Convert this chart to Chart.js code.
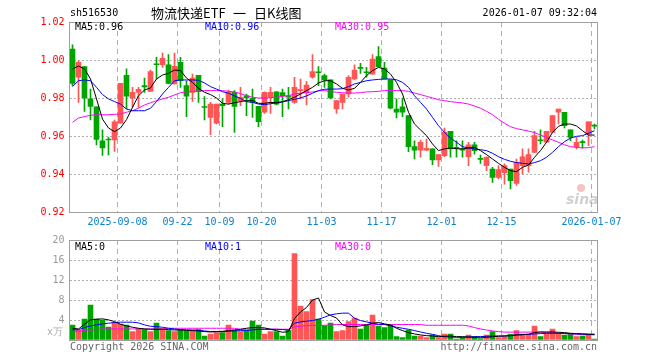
<!DOCTYPE html>
<html>
<head>
<meta charset="utf-8">
<script src="https://cdn.jsdelivr.net/npm/chart.js@4/dist/chart.umd.min.js"></script>
<style>
html, body { margin: 0; padding: 0; background: #fff; }
#wrap { position: relative; width: 660px; height: 360px; }
canvas { position: absolute; left: 0; top: 0; }
</style>
</head>
<body>
<div id="wrap">
  <canvas id="kChart" width="660" height="360"></canvas>
  <canvas id="volChart" width="660" height="360"></canvas>
</div>
<script>
// trading days shown
var dates = [
  "2025-08-27","2025-08-28","2025-08-29",
  "2025-09-01","2025-09-02","2025-09-03","2025-09-04","2025-09-05",
  "2025-09-08","2025-09-09","2025-09-10","2025-09-11","2025-09-12",
  "2025-09-15","2025-09-16","2025-09-17","2025-09-18","2025-09-19",
  "2025-09-22","2025-09-23","2025-09-24","2025-09-25","2025-09-26",
  "2025-09-29","2025-09-30","2025-10-09","2025-10-10",
  "2025-10-13","2025-10-14","2025-10-15","2025-10-16","2025-10-17",
  "2025-10-20","2025-10-21","2025-10-22","2025-10-23","2025-10-24",
  "2025-10-27","2025-10-28","2025-10-29","2025-10-30","2025-10-31",
  "2025-11-03","2025-11-04","2025-11-05","2025-11-06","2025-11-07",
  "2025-11-10","2025-11-11","2025-11-12","2025-11-13","2025-11-14",
  "2025-11-17","2025-11-18","2025-11-19","2025-11-20","2025-11-21",
  "2025-11-24","2025-11-25","2025-11-26","2025-11-27","2025-11-28",
  "2025-12-01","2025-12-02","2025-12-03","2025-12-04","2025-12-05",
  "2025-12-08","2025-12-09","2025-12-10","2025-12-11","2025-12-12",
  "2025-12-15","2025-12-16","2025-12-17","2025-12-18","2025-12-19",
  "2025-12-22","2025-12-23","2025-12-24","2025-12-25","2025-12-26",
  "2025-12-29","2025-12-30","2025-12-31",
  "2026-01-05","2026-01-06","2026-01-07"
];

var opens = [
  1.0058,0.9909,0.9965,0.9795,0.9754,0.9575,0.9582,0.9579,0.9667,0.9919,
  0.9800,0.9830,0.9865,0.9835,0.9979,0.9975,0.9975,0.9874,0.9988,0.9865,
  0.9830,0.9919,0.9751,0.9698,0.9667,0.9768,0.9777,0.9830,0.9786,0.9811,
  0.9798,0.9756,0.9725,0.9804,0.9833,0.9828,0.9812,0.9777,0.9839,0.9830,
  0.9909,0.9935,0.9918,0.9895,0.9742,0.9777,0.9821,0.9900,0.9958,0.9935,
  0.9926,1.0018,0.9958,0.9895,0.9742,0.9754,0.9707,0.9544,0.9526,0.9526,
  0.9532,0.9474,0.9496,0.9625,0.9537,0.9528,0.9491,0.9554,0.9479,0.9444,
  0.9426,0.9382,0.9407,0.9426,0.9351,0.9444,0.9444,0.9514,0.9577,0.9567,
  0.9619,0.9725,0.9725,0.9632,0.9544,0.9567,0.9611,0.9654
];
var highs = [
  1.0080,0.9996,0.9965,0.9847,0.9754,0.9632,0.9593,0.9684,0.9877,0.9953,
  0.9856,0.9856,0.9905,0.9947,1.0014,1.0037,1.0028,1.0037,1.0014,0.9891,
  0.9926,0.9919,0.9807,0.9777,0.9768,0.9795,0.9842,0.9839,0.9856,0.9821,
  0.9847,0.9756,0.9833,0.9856,0.9833,0.9847,0.9856,0.9909,0.9900,0.9888,
  1.0028,0.9965,0.9926,0.9895,0.9786,0.9821,0.9918,0.9975,0.9982,0.9961,
  1.0028,1.0070,0.9988,0.9895,0.9795,0.9800,0.9707,0.9575,0.9579,0.9584,
  0.9532,0.9502,0.9642,0.9625,0.9575,0.9575,0.9567,0.9567,0.9500,0.9491,
  0.9435,0.9444,0.9453,0.9426,0.9479,0.9532,0.9532,0.9625,0.9632,0.9625,
  0.9707,0.9742,0.9725,0.9632,0.9593,0.9579,0.9675,0.9663
];
var lows = [
  0.9865,0.9777,0.9730,0.9684,0.9553,0.9498,0.9500,0.9519,0.9667,0.9742,
  0.9751,0.9751,0.9830,0.9835,0.9900,0.9961,0.9874,0.9874,0.9856,0.9702,
  0.9782,0.9777,0.9684,0.9607,0.9663,0.9649,0.9768,0.9619,0.9760,0.9707,
  0.9698,0.9649,0.9719,0.9719,0.9763,0.9702,0.9742,0.9772,0.9795,0.9763,
  0.9905,0.9865,0.9856,0.9795,0.9719,0.9742,0.9804,0.9895,0.9930,0.9909,
  0.9926,0.9965,0.9900,0.9742,0.9695,0.9702,0.9518,0.9479,0.9488,0.9523,
  0.9449,0.9440,0.9491,0.9488,0.9488,0.9488,0.9444,0.9505,0.9456,0.9418,
  0.9356,0.9374,0.9347,0.9321,0.9340,0.9400,0.9409,0.9514,0.9558,0.9567,
  0.9619,0.9663,0.9642,0.9575,0.9532,0.9537,0.9549,0.9637
];
var closes = [
  0.9877,0.9988,0.9800,0.9756,0.9582,0.9537,0.9579,0.9675,0.9877,0.9809,
  0.9830,0.9846,0.9858,0.9939,0.9975,1.0009,0.9877,0.9967,0.9891,0.9809,
  0.9905,0.9833,0.9750,0.9768,0.9768,0.9760,0.9830,0.9756,0.9804,0.9800,
  0.9777,0.9675,0.9830,0.9830,0.9768,0.9812,0.9804,0.9856,0.9842,0.9868,
  0.9939,0.9933,0.9895,0.9800,0.9786,0.9821,0.9909,0.9947,0.9956,0.9933,
  1.0005,0.9965,0.9900,0.9747,0.9725,0.9725,0.9544,0.9526,0.9567,0.9535,
  0.9474,0.9502,0.9619,0.9532,0.9535,0.9526,0.9554,0.9523,0.9477,0.9488,
  0.9382,0.9423,0.9444,0.9365,0.9461,0.9491,0.9502,0.9602,0.9575,0.9625,
  0.9707,0.9742,0.9654,0.9593,0.9567,0.9565,0.9675,0.9652
];

// moving averages as drawn on the price panel
var ma5 = [
  0.9953,0.9968,0.9953,0.9900,0.9795,0.9689,0.9642,0.9623,0.9642,0.9686,
  0.9751,0.9812,0.9842,0.9853,0.9900,0.9921,0.9930,0.9947,0.9944,0.9905,
  0.9882,0.9851,0.9830,0.9818,0.9800,0.9772,0.9768,0.9775,0.9781,0.9786,
  0.9786,0.9772,0.9772,0.9777,0.9775,0.9781,0.9791,0.9804,0.9821,0.9839,
  0.9856,0.9879,0.9891,0.9891,0.9874,0.9851,0.9842,0.9851,0.9882,0.9918,
  0.9944,0.9961,0.9953,0.9926,0.9882,0.9821,0.9725,0.9663,0.9632,0.9602,
  0.9558,0.9523,0.9532,0.9537,0.9533,0.9532,0.9537,0.9540,0.9523,0.9502,
  0.9479,0.9456,0.9435,0.9418,0.9412,0.9435,0.9447,0.9488,0.9523,0.9567,
  0.9619,0.9651,0.9663,0.9663,0.9653,0.9628,0.9605,0.9605
];
var ma10 = [
  0.9860,0.9891,0.9895,0.9891,0.9856,0.9818,0.9795,0.9781,0.9768,0.9742,
  0.9733,0.9733,0.9733,0.9746,0.9781,0.9821,0.9856,0.9891,0.9895,0.9895,
  0.9895,0.9893,0.9879,0.9860,0.9847,0.9833,0.9825,0.9811,0.9798,0.9781,
  0.9777,0.9768,0.9765,0.9770,0.9774,0.9779,0.9786,0.9793,0.9800,0.9811,
  0.9825,0.9839,0.9846,0.9847,0.9847,0.9849,0.9860,0.9874,0.9882,0.9891,
  0.9895,0.9898,0.9900,0.9900,0.9896,0.9882,0.9856,0.9812,0.9777,0.9742,
  0.9698,0.9654,0.9619,0.9589,0.9567,0.9544,0.9537,0.9532,0.9528,0.9523,
  0.9509,0.9491,0.9477,0.9467,0.9460,0.9456,0.9453,0.9460,0.9470,0.9488,
  0.9514,0.9544,0.9570,0.9589,0.9598,0.9602,0.9614,0.9628
];
var ma30 = [
  0.9672,0.9695,0.9702,0.9709,0.9712,0.9712,0.9712,0.9714,0.9716,0.9725,
  0.9733,0.9747,0.9763,0.9775,0.9786,0.9795,0.9804,0.9816,0.9828,0.9833,
  0.9835,0.9837,0.9839,0.9839,0.9839,0.9839,0.9835,0.9832,0.9823,0.9812,
  0.9804,0.9800,0.9800,0.9802,0.9804,0.9809,0.9812,0.9821,0.9825,0.9828,
  0.9832,0.9837,0.9839,0.9835,0.9830,0.9828,0.9826,0.9826,0.9828,0.9832,
  0.9833,0.9835,0.9839,0.9839,0.9839,0.9839,0.9835,0.9826,0.9818,0.9809,
  0.9800,0.9791,0.9786,0.9781,0.9777,0.9774,0.9768,0.9758,0.9746,0.9730,
  0.9712,0.9688,0.9667,0.9649,0.9639,0.9632,0.9626,0.9618,0.9605,0.9593,
  0.9579,0.9567,0.9554,0.9544,0.9540,0.9537,0.9539,0.9544
];

// volume, in 万
var volumes = [
  3.0,2.0,4.2,7.0,4.2,4.0,2.6,3.5,3.2,3.0,
  1.7,2.3,2.1,1.7,3.4,2.3,1.9,1.7,2.1,1.9,
  1.9,2.1,0.8,1.2,1.5,1.5,3.0,2.0,1.7,1.9,
  3.8,3.0,1.2,1.7,1.7,0.8,2.0,17.3,6.8,5.7,
  8.1,4.2,2.9,3.4,1.7,1.9,3.7,4.4,2.2,3.0,
  5.0,2.8,2.5,3.0,0.7,0.5,2.0,0.8,0.8,0.5,
  1.0,0.5,1.2,1.2,0.2,0.5,1.0,0.7,0.3,1.0,
  1.7,0.5,0.7,1.2,1.9,1.2,1.2,2.8,0.7,1.3,
  2.2,1.3,1.0,1.3,0.7,0.8,1.2,0.2
];
var volMa5 = [
  2.35,2.21,3.15,4.03,4.16,4.23,4.03,3.69,3.15,2.82,
  2.55,2.35,2.21,2.15,2.15,2.15,2.08,2.01,2.01,1.95,
  1.88,1.81,1.68,1.61,1.68,1.74,1.88,2.01,2.15,2.35,
  2.48,2.48,2.42,2.15,1.88,1.54,1.68,4.3,5.6,6.5,
  8.0,8.4,5.6,4.9,4.4,3.02,2.68,2.68,2.82,3.02,
  3.36,3.49,3.22,3.02,2.35,1.88,1.48,1.21,1.01,0.87,
  0.81,0.67,0.74,0.81,0.67,0.67,0.60,0.54,0.54,0.54,
  0.67,0.74,0.81,0.87,1.01,1.07,1.14,1.48,1.61,1.61,
  1.61,1.54,1.48,1.34,1.28,1.21,1.14,1.14
];
var volMa10 = [
  2.01,2.08,2.48,2.82,3.02,3.22,3.36,3.49,3.56,3.56,
  3.56,3.42,3.02,2.75,2.68,2.55,2.35,2.21,2.08,2.01,
  2.01,1.95,1.81,1.68,1.68,1.68,1.74,1.81,1.88,1.88,
  2.01,2.15,2.15,2.15,2.15,2.08,2.01,3.36,3.62,3.76,
  3.89,4.16,4.56,5.03,5.23,5.37,5.37,4.36,3.89,3.62,
  3.36,3.15,3.09,2.82,2.55,2.35,2.15,1.88,1.61,1.34,
  1.14,0.87,0.67,0.60,0.54,0.54,0.60,0.67,0.67,0.74,
  0.81,0.81,0.81,0.87,1.01,1.07,1.14,1.21,1.28,1.34,
  1.34,1.34,1.34,1.28,1.21,1.21,1.14,1.14
];
var volMa30 = [
  1.74,1.74,1.95,2.01,2.08,2.21,2.21,2.21,2.21,2.21,
  2.21,2.21,2.21,2.21,2.21,2.21,2.35,2.35,2.35,2.35,
  2.35,2.35,2.35,2.35,2.35,2.35,2.35,2.35,2.15,2.15,
  2.15,2.15,2.15,2.15,2.15,2.15,2.15,2.6,2.8,2.85,
  2.9,2.9,2.95,3.0,3.1,3.1,3.1,3.1,3.1,3.1,
  3.1,3.1,3.1,3.1,3.1,3.1,3.1,3.1,3.09,2.95,
  2.95,2.95,2.95,2.95,2.95,2.95,2.82,2.48,2.21,2.01,
  1.81,1.68,1.58,1.58,1.58,1.58,1.58,1.58,1.58,1.48,
  1.41,1.34,1.28,1.21,1.14,1.07,1.07,1.01
];

// axis ticks
var priceTicks = [0.92, 0.94, 0.96, 0.98, 1.00, 1.02];
var volTicks = [0, 4, 8, 12, 16, 20];
var xTickDates = ["2025-09-08","2025-09-22","2025-10-09","2025-10-20","2025-11-03","2025-11-17","2025-12-01","2025-12-15","2026-01-07"];
var xTickText = ["2025-09-08","09-22","10-09","10-20","11-03","11-17","12-01","12-15","2026-01-07"];

var UP = "#ff5555", DOWN = "#00a600";
var GRID = "#b0b0b0", FRAME = "#a0a0a0";
var MONO = "'DejaVu Sans Mono', monospace";
var CJK = "13px 'Noto Sans CJK SC'";

var candleColors = closes.map(function (c, i) { return c >= opens[i] ? UP : DOWN; });

function isTickDate(i) { return xTickDates.indexOf(dates[i]) >= 0; }

function xScale(showLabels) {
  return {
    type: "category",
    offset: true,
    grid: {
      offset: true,
      drawTicks: false,
      color: function (c) { return isTickDate(c.index) ? GRID : "transparent"; }
    },
    border: { display: false, dash: [5, 4] },
    ticks: {
      display: showLabels,
      autoSkip: false, maxRotation: 0, minRotation: 0,
      padding: 4, labelOffset: -3,
      color: "#0a80d0",
      font: { family: MONO, size: 10 },
      callback: function (v, i) {
        var k = xTickDates.indexOf(dates[i]);
        return k >= 0 ? xTickText[k] : "";
      }
    },
    afterFit: function (s) { s.height = showLabels ? 23 : 0; }
  };
}

function yGrid(ticks) {
  return {
    drawTicks: false,
    color: function (c) {
      var v = c.tick ? c.tick.value : null;
      return (v === ticks[0] || v === ticks[ticks.length - 1]) ? "transparent" : GRID;
    }
  };
}

function drawFrame(chart) {
  var a = chart.chartArea, ctx = chart.ctx;
  ctx.save();
  ctx.strokeStyle = FRAME;
  ctx.lineWidth = 1;
  ctx.strokeRect(Math.floor(a.left) + 0.5, Math.round(a.top) + 0.5,
    Math.round(a.right - a.left), Math.round(a.bottom - a.top));
  ctx.restore();
}

function text(ctx, s, x, y, color, align, font) {
  ctx.fillStyle = color;
  ctx.textAlign = align || "left";
  ctx.textBaseline = "middle";
  ctx.font = font || ("10px " + MONO);
  ctx.fillText(s, x, y);
}

// price panel
new Chart(document.getElementById("kChart").getContext("2d"), {
  type: "bar",
  data: {
    labels: dates,
    datasets: [
      { type: "line", data: ma5, borderColor: "#000000", borderWidth: 1, pointRadius: 0, order: 0 },
      { type: "line", data: ma10, borderColor: "#0000ff", borderWidth: 1, pointRadius: 0, order: 0 },
      { type: "line", data: ma30, borderColor: "#ff00ff", borderWidth: 1, pointRadius: 0, order: 0 },
      {
        data: lows.map(function (l, i) { return [l, highs[i]]; }),
        backgroundColor: candleColors, barThickness: 1, grouped: false, order: 2
      },
      {
        data: opens.map(function (o, i) { return [o, closes[i]]; }),
        backgroundColor: candleColors, barThickness: 5, minBarLength: 1, grouped: false, order: 1
      }
    ]
  },
  options: {
    responsive: false,
    animation: false,
    layout: { padding: { top: 22, right: 62.5, bottom: 125, left: 0 } },
    plugins: { legend: { display: false }, tooltip: { enabled: false } },
    scales: {
      x: xScale(true),
      y: {
        min: 0.92, max: 1.02,
        afterBuildTicks: function (s) { s.ticks = priceTicks.map(function (v) { return { value: v }; }); },
        afterFit: function (s) { s.width = 69.5; },
        grid: yGrid(priceTicks),
        border: { display: false, dash: [2, 2] },
        ticks: {
          padding: 5, color: "#ff0000",
          font: { family: MONO, size: 10 },
          callback: function (v) { return Number(v).toFixed(2); }
        }
      }
    }
  },
  plugins: [{
    id: "kDeco",
    afterDraw: function (chart) {
      var ctx = chart.ctx;
      drawFrame(chart);
      ctx.save();
      text(ctx, "sh516530", 70, 13, "#000");
      text(ctx, "物流快递ETF", 151, 13, "#000", "left", CJK);
      text(ctx, "一", 233, 13, "#000", "left", CJK);
      text(ctx, "日K线图", 254, 13, "#000", "left", CJK);
      text(ctx, "2026-01-07 09:32:04", 597, 13, "#000", "right");
      text(ctx, "MA5:0.96", 75, 27, "#000");
      text(ctx, "MA10:0.96", 205, 27, "#0000ff");
      text(ctx, "MA30:0.95", 335, 27, "#ff00ff");
      // sina watermark
      ctx.fillStyle = "rgba(240,120,120,0.45)";
      ctx.beginPath(); ctx.arc(581, 188, 4, 0, Math.PI * 2); ctx.fill();
      text(ctx, "sina", 566, 200, "rgba(170,170,170,0.55)", "left", "italic bold 14px 'DejaVu Sans'");
      ctx.restore();
    }
  }]
});

// volume panel
new Chart(document.getElementById("volChart").getContext("2d"), {
  type: "bar",
  data: {
    labels: dates,
    datasets: [
      { type: "line", data: volMa5, borderColor: "#000000", borderWidth: 1, pointRadius: 0, order: 0 },
      { type: "line", data: volMa10, borderColor: "#0000ff", borderWidth: 1, pointRadius: 0, order: 0 },
      { type: "line", data: volMa30, borderColor: "#ff00ff", borderWidth: 1, pointRadius: 0, order: 0 },
      { data: volumes, backgroundColor: candleColors, barThickness: 5, order: 1 }
    ]
  },
  options: {
    responsive: false,
    animation: false,
    layout: { padding: { top: 240, right: 62.5, bottom: 20, left: 0 } },
    plugins: { legend: { display: false }, tooltip: { enabled: false } },
    scales: {
      x: xScale(false),
      y: {
        min: 0, max: 20,
        afterBuildTicks: function (s) { s.ticks = volTicks.map(function (v) { return { value: v }; }); },
        afterFit: function (s) { s.width = 69.5; },
        grid: yGrid(volTicks),
        border: { display: false, dash: [2, 2] },
        ticks: {
          padding: 5, color: "#999999",
          font: { family: MONO, size: 10 },
          callback: function (v) { return v === 0 ? "" : String(v); }
        }
      }
    }
  },
  plugins: [{
    id: "volDeco",
    afterDraw: function (chart) {
      var ctx = chart.ctx;
      drawFrame(chart);
      ctx.save();
      text(ctx, "MA5:0", 75, 247, "#000");
      text(ctx, "MA10:1", 205, 247, "#0000ff");
      text(ctx, "MA30:0", 335, 247, "#ff00ff");
      text(ctx, "x万", 63, 332, "#aaaaaa", "right");
      text(ctx, "Copyright 2026 SINA.COM", 70, 347, "#666666");
      text(ctx, "http://finance.sina.com.cn", 597, 347, "#666666", "right");
      ctx.restore();
    }
  }]
});
</script>
</body>
</html>
